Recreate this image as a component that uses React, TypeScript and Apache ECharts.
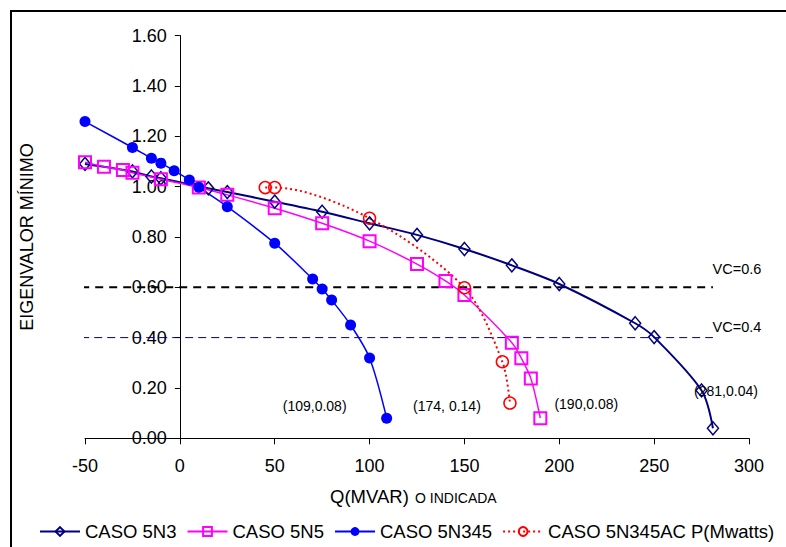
import React, { useEffect, useRef } from "react";
import * as echarts from "echarts";

// CASO 5N3
const caso5N3X = [-50, -25, -15, -10, 15, 25, 50, 75, 100, 125, 150, 175, 200, 240, 250, 275, 281];
const caso5N3Y = [1.09, 1.06, 1.04, 1.033, 0.993, 0.978, 0.94, 0.9, 0.854, 0.808, 0.752, 0.687, 0.613, 0.457, 0.402, 0.19, 0.04];

// CASO 5N5
const caso5N5X = [-50, -40, -30, -25, -10, 10, 25, 50, 75, 100, 125, 140, 150, 175, 180, 185, 190];
const caso5N5Y = [1.097, 1.079, 1.066, 1.055, 1.029, 0.996, 0.967, 0.914, 0.854, 0.783, 0.692, 0.625, 0.569, 0.38, 0.318, 0.238, 0.08];

// CASO 5N345
const caso5N345X = [-50, -25, -15, -10, -3, 5, 10, 25, 50, 70, 75, 80, 90, 100, 109];
const caso5N345Y = [1.258, 1.155, 1.112, 1.093, 1.063, 1.026, 0.997, 0.92, 0.775, 0.633, 0.593, 0.549, 0.45, 0.319, 0.08];

// CASO 5N345AC P(Mwatts)
const caso5N345ACX = [45, 50, 100, 150, 170, 174];
const caso5N345ACY = [0.996, 0.996, 0.874, 0.598, 0.304, 0.14];

// Voltage-collapse reference levels
const vcLevels = [0.6, 0.4];
const vcLabels = ["VC=0.6", "VC=0.4"];
const vcRangeX = [-52, 281];

// End-point annotations (one per curve, in series order)
const endLabels = ["(281,0.04)", "(190,0.08)", "(109,0.08)", "(174, 0.14)"];

const xTicks = { min: -50, max: 300, interval: 50 };
const yTicks = { min: 0, max: 1.6, interval: 0.2 };

const FONT = "'Liberation Sans', Arial, sans-serif";

const GRID = { left: 85, right: 37, top: 35.5, bottom: 108.7 };
const WIDTH = 786;
const HEIGHT = 547;

const zip = (xs: number[], ys: number[]) => xs.map((x, i) => [x, ys[i]]);

export default function App() {
  const ref = useRef<HTMLDivElement>(null);

  useEffect(() => {
    if (!ref.current) return;
    const chart = echarts.init(ref.current, undefined, { renderer: "svg" });

    // the vertical axis sits at Q = 0, so shift it in from the grid's left edge
    const plotW = WIDTH - GRID.left - GRID.right;
    const yAxisShift = ((0 - xTicks.min) / (xTicks.max - xTicks.min)) * plotW;

    const seriesDefs = [
      {
        name: "CASO 5N3",
        data: zip(caso5N3X, caso5N3Y),
        color: "#000080",
        symbol: "diamond",
        symbolSize: [11, 13],
        filled: false,
        lineWidth: 2,
        lineType: "solid",
        borderWidth: 1.5,
      },
      {
        name: "CASO 5N5",
        data: zip(caso5N5X, caso5N5Y),
        color: "#FF00FF",
        symbol: "rect",
        symbolSize: 12,
        filled: false,
        lineWidth: 1.5,
        lineType: "solid",
        borderWidth: 2,
      },
      {
        name: "CASO 5N345",
        data: zip(caso5N345X, caso5N345Y),
        color: "#0000FF",
        symbol: "circle",
        symbolSize: 11,
        filled: true,
        lineWidth: 1.5,
        lineType: "solid",
        borderWidth: 0,
      },
      {
        name: "CASO 5N345AC P(Mwatts)",
        data: zip(caso5N345ACX, caso5N345ACY),
        color: "#FF0000",
        symbol: "circle",
        symbolSize: 12,
        filled: false,
        lineWidth: 2,
        lineType: [2, 3],
        borderWidth: 1.5,
      },
    ];

    const curveSeries = seriesDefs.map((s) => ({
      type: "line",
      name: s.name,
      data: s.data,
      smooth: 0.3,
      symbol: s.symbol,
      symbolSize: s.symbolSize,
      showAllSymbol: true,
      lineStyle: { color: s.color, width: s.lineWidth, type: s.lineType },
      itemStyle: {
        color: s.filled ? s.color : "rgba(255,255,255,0)",
        borderColor: s.color,
        borderWidth: s.borderWidth,
      },
      emphasis: { disabled: true },
      z: 3,
    }));

    const vcSeries = vcLevels.map((lvl, i) => ({
      type: "line",
      name: vcLabels[i],
      data: vcRangeX.map((x) => [x, lvl]),
      symbol: "none",
      lineStyle:
        i === 0
          ? { color: "#000000", width: 2, type: [8, 6] }
          : { color: "#000080", width: 1, type: [8, 5] },
      emphasis: { disabled: true },
      z: 2,
    }));

    const option: any = {
      animation: false,
      backgroundColor: "#ffffff",
      textStyle: { fontFamily: FONT },
      grid: GRID,
      xAxis: {
        type: "value",
        min: xTicks.min,
        max: xTicks.max,
        interval: xTicks.interval,
        axisLine: { onZero: false, lineStyle: { color: "#000", width: 1 } },
        axisTick: { show: true, inside: false, length: 6, lineStyle: { color: "#000" } },
        axisLabel: { fontSize: 18, color: "#000", margin: 19, fontFamily: FONT },
        splitLine: { show: false },
      },
      yAxis: {
        type: "value",
        min: yTicks.min,
        max: yTicks.max,
        interval: yTicks.interval,
        offset: -yAxisShift,
        axisLine: { show: true, onZero: false, lineStyle: { color: "#000", width: 1 } },
        axisTick: { show: true, inside: false, length: 5, lineStyle: { color: "#000" } },
        axisLabel: {
          fontSize: 18,
          color: "#000",
          margin: 13,
          fontFamily: FONT,
          formatter: (v: number) => v.toFixed(2),
        },
        splitLine: { show: false },
      },
      legend: {
        data: seriesDefs.map((s) => s.name),
        left: 34,
        top: 517,
        itemWidth: 40,
        itemHeight: 11,
        itemGap: 10,
        textStyle: { fontSize: 18.5, color: "#000", fontFamily: FONT },
        selectedMode: false,
      },
      series: [...vcSeries, ...curveSeries],
    };

    chart.setOption(option);

    // Texts anchored to data points
    const px = (p: number[]) => chart.convertToPixel({ gridIndex: 0 }, p) as number[];
    const endOffsets = [
      [13, -37],
      [46, -14],
      [-72, -12],
      [-63, 3],
    ];
    const endTexts = seriesDefs.map((s, i) => {
      const last = s.data[s.data.length - 1];
      const p = px(last);
      return {
        type: "text",
        x: p[0] + endOffsets[i][0],
        y: p[1] + endOffsets[i][1],
        style: {
          text: endLabels[i],
          fill: "#000",
          font: `14px ${FONT}`,
          align: "center",
          verticalAlign: "middle",
        },
        z: 10,
      };
    });
    const vcOffsets = [
      [24, -18],
      [24, -11],
    ];
    const vcTexts = vcLevels.map((lvl, i) => {
      const p = px([vcRangeX[1], lvl]);
      return {
        type: "text",
        x: p[0] + vcOffsets[i][0],
        y: p[1] + vcOffsets[i][1],
        style: {
          text: vcLabels[i],
          fill: "#000",
          font: `14.5px ${FONT}`,
          align: "center",
          verticalAlign: "middle",
        },
        z: 10,
      };
    });

    chart.setOption({
      graphic: [
        {
          type: "rect",
          shape: { x: 11, y: 11, width: 1200, height: 1200 },
          style: { fill: "none", stroke: "#000", lineWidth: 2 },
          silent: true,
          z: 0,
        },
        {
          type: "text",
          x: 27,
          y: 237,
          rotation: Math.PI / 2,
          style: {
            text: "EIGENVALOR MÍNIMO",
            fill: "#000",
            font: `18px ${FONT}`,
            align: "center",
            verticalAlign: "middle",
          },
        },
        {
          type: "text",
          x: 330,
          y: 506,
          style: {
            text: "Q(MVAR)",
            fill: "#000",
            font: `18.5px ${FONT}`,
            align: "left",
            verticalAlign: "bottom",
          },
        },
        {
          type: "text",
          x: 415,
          y: 505,
          style: {
            text: "O INDICADA",
            fill: "#000",
            font: `14px ${FONT}`,
            align: "left",
            verticalAlign: "bottom",
          },
        },
        ...endTexts,
        ...vcTexts,
      ],
    });

    return () => chart.dispose();
  }, []);

  return (
    <div
      ref={ref}
      style={{ position: "absolute", left: 0, top: 0, width: WIDTH, height: HEIGHT, background: "#fff" }}
    />
  );
}
